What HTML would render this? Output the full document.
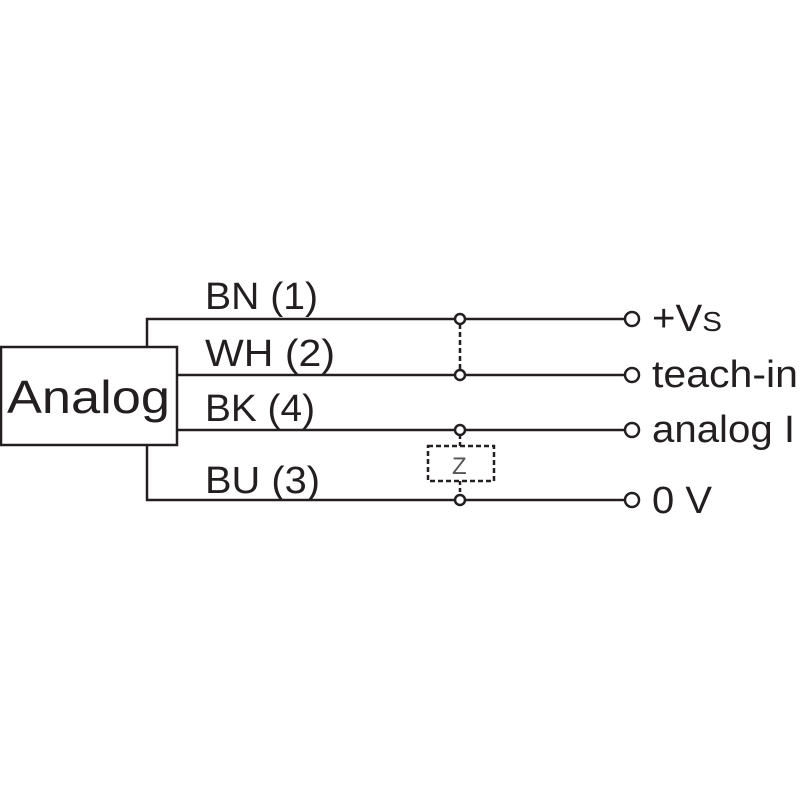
<!DOCTYPE html>
<html><head><style>body{margin:0;background:#fff}</style></head><body>
<svg width="800" height="800" xmlns="http://www.w3.org/2000/svg" font-family="Liberation Sans, sans-serif" fill="#231f20">
<g stroke="#231f20" stroke-width="2.5" fill="none">
<rect x="1" y="347" width="176" height="98"/>
<polyline points="147,347 147,319 625,319"/>
<line x1="177" y1="375" x2="625" y2="375"/>
<line x1="177" y1="430" x2="625" y2="430"/>
<polyline points="147,445 147,500 625,500"/>
<line x1="460" y1="324" x2="460" y2="370" stroke-dasharray="5,3"/>
<rect x="428" y="446" width="66" height="35" stroke-dasharray="5,3"/>
<line x1="460" y1="435" x2="460" y2="446" stroke-dasharray="4,3"/>
<line x1="460" y1="481" x2="460" y2="495" stroke-dasharray="4,3"/>
<g fill="#fff">
<circle cx="460" cy="319" r="5"/><circle cx="460" cy="375" r="5"/>
<circle cx="460" cy="430" r="5"/><circle cx="460" cy="500" r="5"/>
<circle cx="632" cy="319" r="7"/><circle cx="632" cy="375" r="7"/>
<circle cx="632" cy="430" r="7"/><circle cx="632" cy="500" r="7"/>
</g>
</g>
<text x="7" y="413" font-size="46" textLength="163" lengthAdjust="spacingAndGlyphs">Analog</text>
<g font-size="38">
<text x="205" y="309" textLength="113" lengthAdjust="spacingAndGlyphs">BN (1)</text>
<text x="205" y="366" textLength="130" lengthAdjust="spacingAndGlyphs">WH (2)</text>
<text x="205" y="421" textLength="110" lengthAdjust="spacingAndGlyphs">BK (4)</text>
<text x="205" y="493" textLength="115" lengthAdjust="spacingAndGlyphs">BU (3)</text>
<text x="652" y="331" textLength="70" lengthAdjust="spacingAndGlyphs">+V<tspan font-size="28">S</tspan></text>
<text x="652" y="387" textLength="146" lengthAdjust="spacingAndGlyphs">teach-in</text>
<text x="652" y="442" textLength="143" lengthAdjust="spacingAndGlyphs">analog I</text>
<text x="652" y="513" textLength="60" lengthAdjust="spacingAndGlyphs">0 V</text>
</g>
<text x="452" y="474" font-size="24" fill="#555">Z</text>
</svg>
</body></html>
